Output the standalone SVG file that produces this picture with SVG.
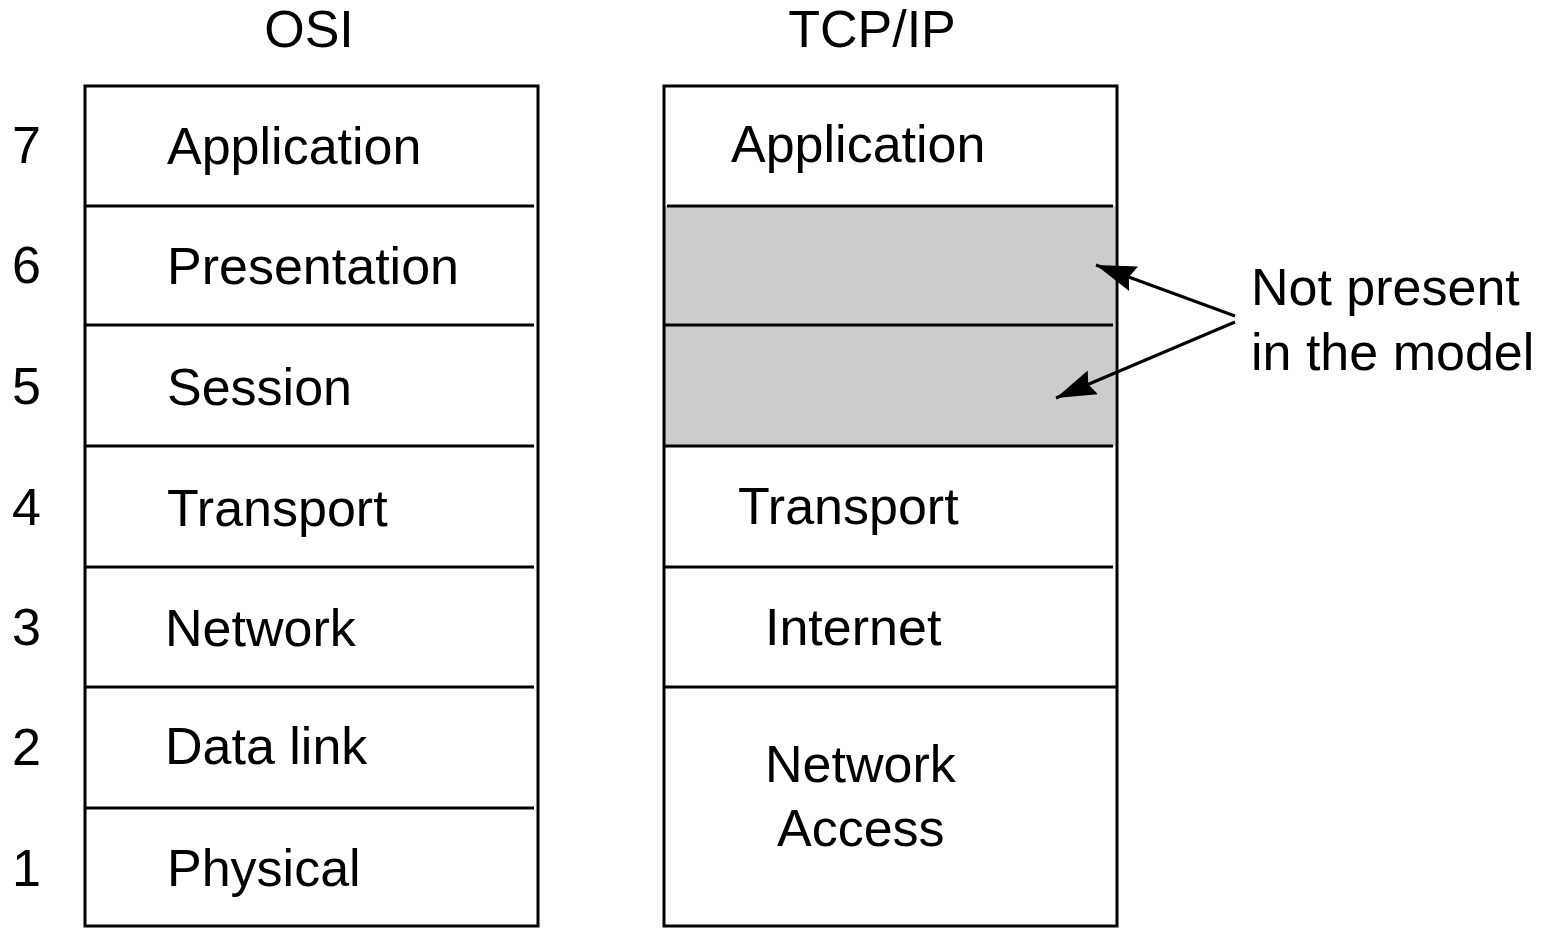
<svg xmlns="http://www.w3.org/2000/svg" width="1550" height="929" viewBox="0 0 1550 929">
<style>
text{font-family:"Liberation Sans",Arial,sans-serif;font-size:52px;fill:#000}
.box{fill:none;stroke:#000;stroke-width:3}
.div{stroke:#000;stroke-width:3}
.con{stroke:#000;stroke-width:3;fill:none}
</style>
<defs>
<marker id="ah2" viewBox="0 0 40 26" refX="40" refY="13" markerWidth="40" markerHeight="26" orient="auto" markerUnits="userSpaceOnUse">
<path d="M0,0 L40,13 L0,26 L5,13 z" fill="#000"/>
</marker>
</defs>
<rect x="664" y="206" width="451" height="240" fill="#cccccc"/>
<g id="titles">
<text x="309" y="47" text-anchor="middle">OSI</text>
<text x="872" y="47" text-anchor="middle">TCP/IP</text>
</g>
<g id="numbers">
<text x="12" y="163">7</text>
<text x="12" y="283">6</text>
<text x="12" y="404">5</text>
<text x="12" y="525">4</text>
<text x="12" y="645">3</text>
<text x="12" y="765">2</text>
<text x="12" y="886">1</text>
</g>
<g id="osi">
<rect class="box" x="85" y="86" width="453" height="840"/>
<line class="div" x1="85" y1="206" x2="534" y2="206"/>
<line class="div" x1="85" y1="325" x2="534" y2="325"/>
<line class="div" x1="85" y1="446" x2="534" y2="446"/>
<line class="div" x1="85" y1="567" x2="534" y2="567"/>
<line class="div" x1="85" y1="687" x2="534" y2="687"/>
<line class="div" x1="85" y1="808" x2="534" y2="808"/>
<g id="osi-7"><text x="167" y="164">Application</text></g>
<g id="osi-6"><text x="167" y="284">Presentation</text></g>
<g id="osi-5"><text x="167" y="405">Session</text></g>
<g id="osi-4"><text x="167" y="526">Transport</text></g>
<g id="osi-3"><text x="165" y="646">Network</text></g>
<g id="osi-2"><text x="165" y="764">Data link</text></g>
<g id="osi-1"><text x="167" y="886">Physical</text></g>
</g>
<g id="tcpip">
<rect class="box" x="664" y="86" width="453" height="840"/>
<line class="div" x1="667" y1="206" x2="1113" y2="206"/>
<line class="div" x1="664" y1="325" x2="1113" y2="325"/>
<line class="div" x1="664" y1="446" x2="1113" y2="446"/>
<line class="div" x1="664" y1="567" x2="1113" y2="567"/>
<line class="div" x1="664" y1="687" x2="1117" y2="687"/>
<g id="tcp-app"><text x="731" y="162">Application</text></g>
<g id="tcp-transport"><text x="738" y="524">Transport</text></g>
<g id="tcp-internet"><text x="765" y="645">Internet</text></g>
<g id="tcp-access"><text x="765" y="782">Network</text><text x="777" y="846">Access</text></g>
</g>
<g id="note"><text x="1251" y="305">Not present</text><text x="1251" y="370">in the model</text></g>
<g id="connectors">
<line class="con" x1="1235" y1="316" x2="1096" y2="265" marker-end="url(#ah2)"/>
<line class="con" x1="1235" y1="322" x2="1056" y2="398" marker-end="url(#ah2)"/>
</g>
</svg>
